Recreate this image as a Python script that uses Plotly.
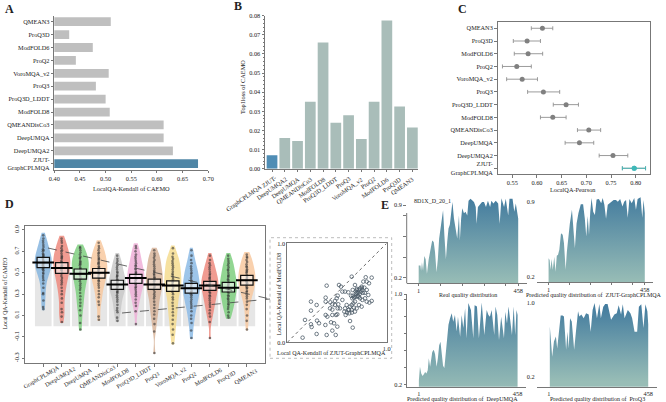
import plotly.graph_objects as go

W, H = 666, 402
FONT = "Liberation Serif"
INK = "#222222"
SPINE = "#777777"
TICK_SIZE = 6.3

# --- panel A / B / C data
tools = ["ZJUT-<br>GraphCPLMQA", "DeepUMQA2", "DeepUMQA", "QMEANDisCo3", "ModFOLD8", "ProQ3D_LDDT",
         "ProQ3", "VoroMQA_v2", "ProQ2", "ModFOLD6", "ProQ3D", "QMEAN3"]
kendall = [0.680, 0.631, 0.613, 0.613, 0.508, 0.500, 0.481, 0.506, 0.442, 0.475, 0.429, 0.510]
top1loss = [0.007, 0.016, 0.0145, 0.035, 0.066, 0.024, 0.028, 0.0155, 0.035, 0.0775, 0.0325, 0.0215]
pearson = [0.797, 0.754, 0.686, 0.705, 0.632, 0.659, 0.613, 0.570, 0.559, 0.582, 0.580, 0.611]
pearson_lo = [0.773, 0.726, 0.657, 0.682, 0.607, 0.633, 0.581, 0.5385, 0.530, 0.554, 0.552, 0.5885]
pearson_hi = [0.820, 0.784, 0.715, 0.729, 0.659, 0.684, 0.646, 0.601, 0.5885, 0.6115, 0.607, 0.632]

# --- panel D data
d_tools = ["GraphCPLMQA", "DeepUMQA2", "DeepUMQA", "QMEANDisCo3", "ModFOLD8", "ProQ3D_LDDT",
           "ProQ3", "VoroMQA_v2", "ProQ2", "ModFOLD6", "ProQ3D", "QMEAN3"]
d_colors = ["#86b6e0", "#ee8a7e", "#7fd080", "#f8c9a0", "#c9c9c9", "#efb0d8",
            "#d8b49a", "#f5dc90", "#8dbbe6", "#ee8a7e", "#7fd080", "#f8c9a0"]
d_mean = [0.595, 0.545, 0.49, 0.50, 0.39, 0.45, 0.39, 0.38, 0.355, 0.38, 0.36, 0.43]
d_q1 = [0.548, 0.495, 0.44, 0.45, 0.345, 0.40, 0.345, 0.325, 0.31, 0.335, 0.32, 0.385]
d_q3 = [0.644, 0.595, 0.535, 0.54, 0.43, 0.485, 0.44, 0.425, 0.40, 0.42, 0.41, 0.475]
v0 = [.16, .18, .24, .30, .31, .36, .40, .43, .45, .47, .49, .50, .52, .53, .54, .55, .56, .57, .58, .59,
      .60, .61, .62, .63, .64, .65, .66, .67, .68, .70, .71, .72, .74, .76, .78, .80, .82, .85]
v1 = [.04, .09, .13, .16, .22, .26, .30, .33, .36, .39, .41, .43, .45, .47, .49, .50, .52, .53, .55, .56,
      .57, .59, .60, .61, .63, .64, .65, .66, .68, .70, .71, .73, .75, .78, .80, .82]
v2 = [-.03, .03, .10, .15, .19, .22, .25, .28, .31, .34, .36, .38, .40, .42, .44, .45, .47, .48, .50, .51,
      .53, .54, .55, .57, .58, .59, .60, .61, .63, .64, .65, .67, .69, .71, .73, .74]
v3 = [.06, .09, .20, .23, .27, .30, .33, .36, .38, .40, .42, .43, .45, .46, .48, .49, .50, .52, .53, .54,
      .55, .56, .58, .59, .60, .62, .63, .64, .66, .68, .69, .71, .73, .75, .78]
v4 = [.05, .08, .13, .15, .17, .20, .23, .25, .27, .29, .31, .32, .33, .35, .36, .37, .38, .39, .40, .41,
      .42, .43, .44, .46, .47, .48, .50, .51, .53, .55, .57, .59, .61, .63, .66]
v5 = [.02, .14, .19, .22, .25, .28, .30, .32, .34, .36, .37, .39, .40, .41, .43, .44, .45, .46, .48, .49,
      .50, .51, .53, .54, .56, .57, .59, .61, .63, .65, .67, .70, .73, .75]
v6 = [-.25, -.05, .02, .07, .11, .14, .17, .20, .23, .26, .28, .30, .32, .34, .36, .37, .39, .40, .42, .43,
      .45, .46, .48, .49, .51, .52, .54, .56, .58, .60, .62, .64, .66, .68, .71]
v7 = [-.16, -.08, -.03, .02, .06, .10, .13, .16, .19, .22, .25, .27, .30, .32, .34, .36, .38, .39, .41, .42,
      .44, .46, .48, .49, .51, .53, .55, .57, .59, .61, .63, .65, .68, .73]
v8 = [-.11, -.04, .03, .07, .10, .14, .17, .19, .21, .23, .25, .27, .29, .30, .32, .33, .35, .36, .37, .39,
      .40, .42, .43, .45, .47, .49, .50, .52, .54, .56, .59, .62, .66, .71]
v9 = [-.11, .04, .09, .12, .15, .18, .20, .22, .24, .26, .28, .29, .31, .32, .34, .35, .37, .38, .39, .40,
      .41, .42, .44, .45, .46, .48, .49, .51, .53, .55, .57, .59, .62, .66]
v10 = [.08, .10, .13, .16, .18, .20, .21, .23, .25, .26, .28, .29, .31, .32, .33, .35, .36, .37, .38, .39,
       .40, .41, .43, .44, .46, .47, .48, .50, .52, .53, .55, .57, .59, .61, .63, .66]
v11 = [-.03, .05, .10, .16, .20, .23, .26, .28, .30, .32, .33, .35, .36, .37, .39, .40, .41, .42, .44, .45,
       .46, .47, .48, .50, .51, .52, .53, .55, .56, .58, .60, .62, .64, .65, .67]
d_samples = [v0, v1, v2, v3, v4, v5, v6, v7, v8, v9, v10, v11]

# --- inset scatter
zjut_k = [.154, .178, .238, .238, .295, .238, .245, .299, .319, .295, .396, .453, .487, .396, .386, .386, .386,
          .403, .383, .44, .47, .503, .453, .49, .503, .43, .453, .507, .53, .433, .453, .48, .497, .507, .52,
          .54, .554, .58, .614, .648, .658, .641, .654, .671, .688, .698, .681, .748, .789, .849, .765, .799,
          .822, .775, .732, .755, .715, .799, .815, .799, .849, .826, .755, .782, .732, .698, .681, .664, .648,
          .631, .597, .581, .614, .574, .587, .624, .648, .671, .698, .721, .748, .631, .658, .554, .513, .48,
          .70, .72, .74, .71, .69, .73, .76, .68, .70, .75, .66, .72, .78, .62, .60, .65, .68]
mf8_k = [.047, .226, .411, .32, .377, .182, .155, .219, .192, .084, .074, .118, .074, .572, .451, .411, .276,
         .259, .175, .202, .192, .158, .276, .276, .283, .343, .33, .343, .343, .404, .384, .418, .444, .471, .579,
         .562, .512, .512, .505, .663, .529, .471, .444, .451, .512, .529, .579, .562, .657, .653, .613, .613,
         .596, .552, .545, .529, .505, .529, .478, .411, .418, .401, .428, .444, .444, .461, .411, .394, .377,
         .36, .377, .343, .327, .31, .276, .293, .327, .35, .343, .377, .36, .215, .148, .428, .384, .377,
         .50, .53, .51, .47, .49, .49, .50, .46, .54, .55, .47, .46, .50, .33, .30, .30, .31]
diag = [0, 1]

# --- panel E profiles
real_res = [1, 9, 12, 16, 21, 27, 33, 39, 47, 55, 63, 70, 76, 83, 89, 95, 101, 107, 113, 119, 126, 132, 138, 144,
            150, 156, 163, 170, 178, 186, 190, 196, 201, 209, 216, 224, 230, 239, 247, 255, 263, 267, 273, 283,
            292, 301, 310, 319, 329, 335, 344, 355, 366, 373, 381, 393, 401, 412, 418, 432, 440, 447, 458]
real_q = [.32, .32, .27, .35, .27, .41, .38, .24, .38, .46, .56, .545, .45, .255, .38, .58, .675, .80, .85, .61, .38,
          .545, .675, .71, .80, .93, .77, .675, .58, .80, .56, .77, .87, .82, .835, .80, .94, .96, .94, .93, .88,
          .72, .88, .905, .93, .93, .88, .94, .88, .94, .915, .94, .915, .72, .965, .88, .96, .80, .96, .96, .835,
          .915, .77]
zjut_res = [1, 6, 10, 15, 21, 28, 34, 40, 46, 52, 60, 68, 74, 82, 88, 96, 102, 112, 118, 126, 134, 143, 154, 165,
            173, 180, 187, 193, 199, 205, 213, 221, 229, 240, 251, 258, 266, 274, 282, 291, 302, 310, 321, 330,
            341, 352, 360, 369, 377, 385, 396, 408, 416, 424, 438, 446, 452, 458]
zjut_q = [.377, .36, .27, .37, .27, .39, .25, .40, .41, .455, .61, .595, .52, .27, .44, .625, .70, .83, .66, .47, .70,
          .80, .88, .88, .75, .58, .77, .595, .81, .94, .81, .78, .925, .93, .89, .94, .875, .745, .875, .89, .905,
          .92, .92, .905, .93, .86, .905, .92, .755, .93, .89, .94, .83, .93, .945, .755, .92, .80]
deep_res = [1, 6, 12, 18, 24, 30, 36, 42, 47, 53, 63, 70, 76, 83, 89, 95, 101, 107, 113, 119, 126, 132, 138, 145, 153,
            160, 168, 176, 182, 192, 199, 207, 215, 222, 230, 242, 253, 259, 270, 279, 292, 304, 315, 323, 330, 338,
            350, 356, 364, 372, 382, 395, 401, 409, 416, 424, 432, 440, 447, 453, 458]
deep_q = [.245, .36, .30, .28, .295, .315, .30, .33, .435, .36, .49, .51, .47, .36, .435, .55, .58, .45, .37, .35, .48,
          .61, .73, .785, .83, .755, .815, .67, .80, .625, .815, .70, .875, .61, .92, .86, .61, .90, .89, .61, .925,
          .64, .86, .815, .80, .86, .64, .89, .815, .595, .80, .61, .845, .74, .89, .77, .64, .89, .64, .86, .815]
proq_res = [5, 16, 24, 33, 39, 49, 55, 64, 70, 80, 86, 92, 98, 106, 117, 126, 135, 141, 150, 161, 172, 184, 193, 202,
            211, 222, 233, 240, 251, 260, 271, 287, 302, 313, 322, 333, 341, 349, 364, 376, 384, 395, 407, 415, 426,
            436, 445, 454, 458]
proq_q = [.747, .42, .585, .64, .51, .765, .865, .865, .855, .495, .69, .51, .835, .80, .495, .71, .91, .855, .875, .835,
          .89, .875, .69, .925, 1.0, .835, .99, .835, .96, .99, .99, .82, .875, .89, .975, .875, .985, .835, .925, .89,
          .835, .69, .69, .96, .985, .73, .985, .91, .77]
e_ticks = [1, 101, 201, 301, 401, 458]
e_ticktext = ["1", "", "", "", "", "458"]


def domx(x0, x1):
    return [x0 / W, x1 / W]


def domy(y0, y1):
    return [1 - y1 / H, 1 - y0 / H]


def base_axis(**kw):
    ax = dict(showgrid=False, zeroline=False, showline=True, linecolor=SPINE, linewidth=1, automargin=False,
              ticks="outside", ticklen=2.5, tickwidth=0.8, tickcolor=SPINE,
              tickfont=dict(size=TICK_SIZE, color=INK, family=FONT))
    ax.update(kw)
    return ax


fig = go.Figure()

# A
bar_a = ["#4f86a6"] + ["#bfbfbf"] * 11
fig.add_trace(go.Bar(x=kendall, y=list(range(12)), orientation="h", marker=dict(color=bar_a, line_width=0),
                     width=0.68, xaxis="x", yaxis="y"))
# B
bar_b = ["#4f8db5"] + ["#a9bdb9"] * 11
fig.add_trace(go.Bar(x=list(range(12)), y=top1loss, marker=dict(color=bar_b, line_width=0), width=0.84,
                     xaxis="x2", yaxis="y2"))
# C
fig.add_trace(go.Scatter(x=pearson, y=list(range(12)), mode="markers",
                         marker=dict(size=5, color=["#3fb8b8"] + ["#808080"] * 11),
                         xaxis="x3", yaxis="y3", showlegend=False,
                         error_x=dict(type="data", symmetric=False,
                                      array=[h - m for h, m in zip(pearson_hi, pearson)],
                                      arrayminus=[m - l for m, l in zip(pearson, pearson_lo)],
                                      color="#909090", thickness=0.9, width=2)))
fig.add_trace(go.Scatter(x=pearson[:1], y=[0], mode="markers", marker=dict(size=5, color="#3fb8b8"),
                         xaxis="x3", yaxis="y3",
                         error_x=dict(type="data", symmetric=False, array=[pearson_hi[0] - pearson[0]],
                                      arrayminus=[pearson[0] - pearson_lo[0]], color="#3fb8b8",
                                      thickness=0.9, width=2)))

# D
fig.add_trace(go.Bar(x=list(range(12)), y=d_mean, width=0.9, marker=dict(color="#e6e6e6", line_width=0),
                     xaxis="x4", yaxis="y4"))
for i, sample in enumerate(d_samples):
    fig.add_trace(go.Violin(y=sample, x0=i, width=0.92, scalemode="width", bandwidth=0.06,
                            spanmode="manual", span=[min(sample) - 0.01, max(sample) + 0.025],
                            fillcolor=d_colors[i], opacity=0.85, line=dict(width=0, color=d_colors[i]),
                            points="all", pointpos=0, jitter=0.05,
                            marker=dict(size=2.6, color="rgba(20,20,20,0.6)"),
                            hoveron="points", xaxis="x4", yaxis="y4"))
fig.add_trace(go.Box(x=list(range(12)), q1=d_q1, median=d_mean, q3=d_q3, lowerfence=d_q1, upperfence=d_q3,
                     width=0.67, fillcolor="rgba(255,255,255,0.55)", line=dict(color="#111111", width=1.2),
                     xaxis="x4", yaxis="y4"))
fig.add_trace(go.Scatter(x=list(range(12)), y=d_mean, mode="markers",
                         marker=dict(symbol="line-ew", size=15.5, line=dict(width=2, color="#000000")),
                         xaxis="x4", yaxis="y4"))

# inset
fig.add_trace(go.Scatter(x=diag, y=diag, mode="lines", line=dict(color="#444444", width=0.8, dash="dot"),
                         xaxis="x5", yaxis="y5"))
fig.add_trace(go.Scatter(x=zjut_k, y=mf8_k, mode="markers",
                         marker=dict(size=3.6, color="rgba(255,255,255,0)", line=dict(width=0.8, color="#4c5c68")),
                         xaxis="x5", yaxis="y5"))

# E
for n, (xs, ys) in enumerate([(real_res, real_q), (zjut_res, zjut_q), (deep_res, deep_q), (proq_res, proq_q)]):
    fig.add_trace(go.Scatter(x=xs, y=ys, mode="lines", line=dict(width=0), fill="tozeroy",
                             fillgradient=dict(type="vertical", start=0.15, stop=0.95,
                                               colorscale=[[0, "#98bdb6"], [1, "#457d9f"]]),
                             xaxis=f"x{6 + n}", yaxis=f"y{6 + n}"))

layout = dict(
    width=W, height=H, margin=dict(l=0, r=0, t=0, b=0), autosize=False, showlegend=False,
    paper_bgcolor="white", plot_bgcolor="rgba(0,0,0,0)", font=dict(family=FONT, size=TICK_SIZE, color=INK),
    barmode="overlay", violinmode="overlay", boxmode="overlay",
    xaxis=base_axis(domain=domx(54.3, 208.3), range=[0.40, 0.70], dtick=0.05, tick0=0.4, tickformat=".2f", anchor="y"),
    yaxis=base_axis(domain=domy(16, 169.7), range=[-0.465, 11.44], tickvals=list(range(12)), ticktext=tools, anchor="x"),
    xaxis2=base_axis(domain=domx(265, 418), range=[-0.55, 11.44], tickvals=list(range(12)), showticklabels=False,
                     anchor="y2"),
    yaxis2=base_axis(domain=domy(15.7, 168.7), range=[0, 0.08], dtick=0.01, tickformat=".2f", anchor="x2",
                     minor=dict(dtick=0.002, ticks="outside", ticklen=1.5, tickcolor=SPINE, tickwidth=0.6)),
    xaxis3=base_axis(domain=domx(497.7, 650), range=[0.5204, 0.829], dtick=0.05, tick0=0.55, tickformat=".2f",
                     mirror=True, linewidth=1.2, anchor="y3"),
    yaxis3=base_axis(domain=domy(22.3, 174), range=[-0.45, 11.47], tickvals=list(range(12)), ticktext=tools,
                     mirror=True, linewidth=1.2, anchor="x3"),
    xaxis4=base_axis(domain=domx(25.3, 265), range=[-0.97, 11.98], tickvals=list(range(12)), showticklabels=False,
                     mirror=True, linewidth=1.2, anchor="y4"),
    yaxis4=base_axis(domain=domy(225.5, 363), range=[-0.344, 0.942], tickvals=[-0.3, -0.1, 0.1, 0.3, 0.5, 0.7, 0.9],
                     ticktext=["-0.3", "-0.1", "0.1", "0.3", "0.5", "0.7", "0.9"], tickangle=-90, mirror=True,
                     linewidth=1.2, anchor="x4"),
    xaxis5=base_axis(domain=domx(287.3, 386.7), range=[0, 1], tickvals=[1], ticktext=["1.0"], mirror=True, ticklen=0,
                     anchor="y5"),
    yaxis5=base_axis(domain=domy(243.3, 342.3), range=[0, 1], tickvals=[0, 1], ticktext=["0.0", "1.0"], mirror=True,
                     ticklen=0, anchor="x5"),
    xaxis6=base_axis(domain=domx(406.7, 526.7), range=[-54, 497], tickvals=e_ticks, ticktext=e_ticktext, ticklen=1.5,
                     anchor="y6"),
    yaxis6=base_axis(domain=domy(197, 283.3), range=[0.149, 0.977], showline=False, tickvals=[0.2, 0.4, 0.6, 0.8, 0.9],
                     ticktext=["0.2", "", "", "", "0.9"], anchor="x6"),
    xaxis7=base_axis(domain=domx(537, 653), range=[-54, 497], tickvals=e_ticks, ticktext=e_ticktext, ticklen=1.5,
                     anchor="y7"),
    yaxis7=base_axis(domain=domy(195, 282.3), range=[0.152, 0.967], showline=False, ticklen=0, tickvals=[0.2, 0.9],
                     ticktext=["0.2", "0.9"], anchor="x7"),
    xaxis8=base_axis(domain=domx(407, 526), range=[-54, 497], tickvals=e_ticks, ticktext=e_ticktext, ticklen=0.5,
                     anchor="y8"),
    yaxis8=base_axis(domain=domy(294, 386.7), range=[0.185, 1.0], tickvals=[0.2, 0.35, 0.5, 0.65, 0.8, 0.95, 1.0],
                     ticktext=["0.2", "", "", "", "", "", "1.0"], anchor="x8"),
    xaxis9=base_axis(domain=domx(537, 656.7), range=[-54, 497], tickvals=e_ticks, ticktext=e_ticktext, ticklen=0.5,
                     anchor="y9"),
    yaxis9=base_axis(domain=domy(296, 386.7), range=[0.098, 1.075], showline=False, ticklen=0, tickvals=[0.2, 1.0],
                     ticktext=["0.2", "1.0"], anchor="x9"),
)
fig.update_layout(**layout)


def label(x, y, text, size=TICK_SIZE, angle=0, bold=False):
    fig.add_annotation(xref="paper", yref="paper", x=x / W, y=1 - y / H, text=f"<b>{text}</b>" if bold else text,
                       showarrow=False, textangle=angle, font=dict(size=size, color=INK, family=FONT),
                       xanchor="center", yanchor="middle")


for letter, lx, ly in [("A", 9, 9), ("B", 238, 6), ("C", 462, 9), ("D", 9, 204), ("E", 385, 205)]:
    label(lx, ly, letter, size=12, bold=True)
label(131, 188.5, "LocalQA-Kendall of CAEMO")
label(243, 87, "Top1loss of CAEMO", angle=-90)
label(573, 189, "LocalQA-Pearson")
label(4.5, 294, "Local QA-Kendall of CAMEO", size=5.8, angle=-90)
label(331, 353, "Local QA-Kendall of ZJUT-GraphCPLMQA", size=6)
label(278.5, 294, "Local QA-Kendall of ModFOLD8", size=6, angle=-90)
label(433, 201, "8D1X_D_20_1", size=6)
label(468, 294.5, "Real quality distribution", size=6)
label(594, 294.5, "Predicted quality distribution of  ZJUT-GraphCPLMQA", size=6)
label(462, 398.8, "Predicted quality distribution of  DeepUMQA", size=6)
label(597, 398.8, "Predicted quality distribution of  ProQ3", size=6)


def slanted_b(i, text, xshift, top):
    fig.add_annotation(xref="x2", yref="paper", x=i, y=1 - top / H, xshift=xshift, text=text, showarrow=False,
                       textangle=-35, xanchor="right", yanchor="top", font=dict(size=6.2, color=INK, family=FONT))


# slanted names of panels B and D: B ends just past its tick, D sits centred under its tick
slanted_b(0, "ZJUT-", 8, 171.5)
slanted_b(0, "GraphCPLMQA", -6, 180)
for i, name in enumerate(tools[1:], start=1):
    slanted_b(i, name, 5.5, 172.5)
for i, name in enumerate(d_tools):
    fig.add_annotation(xref="x4", yref="paper", x=i - 0.1, y=1 - 376.5 / H, text=name, showarrow=False,
                       textangle=-30, xanchor="center", yanchor="middle",
                       font=dict(size=6, color=INK, family=FONT))

# dotted frame round the inset, the dashed connectors from panel D, short y axis line of the first E panel
fig.add_shape(type="rect", xref="paper", yref="paper", x0=270 / W, x1=391.7 / W, y0=1 - 358.3 / H, y1=1 - 237.7 / H,
              line=dict(color="#b5b5b5", width=0.9, dash="dot"))
for x0, y0 in [(48, 248), (122, 313)]:
    fig.add_shape(type="line", xref="paper", yref="paper", x0=x0 / W, y0=1 - y0 / H, x1=270 / W, y1=1 - 299 / H,
                  line=dict(color="#444444", width=0.8, dash="dash"))
fig.add_shape(type="line", xref="paper", yref="paper", x0=406.7 / W, x1=406.7 / W, y0=1 - 283.3 / H, y1=1 - 213 / H,
              line=dict(color=SPINE, width=1))

fig.write_html("out.html", config=dict(displayModeBar=False), post_script="document.body.style.margin='0';")
